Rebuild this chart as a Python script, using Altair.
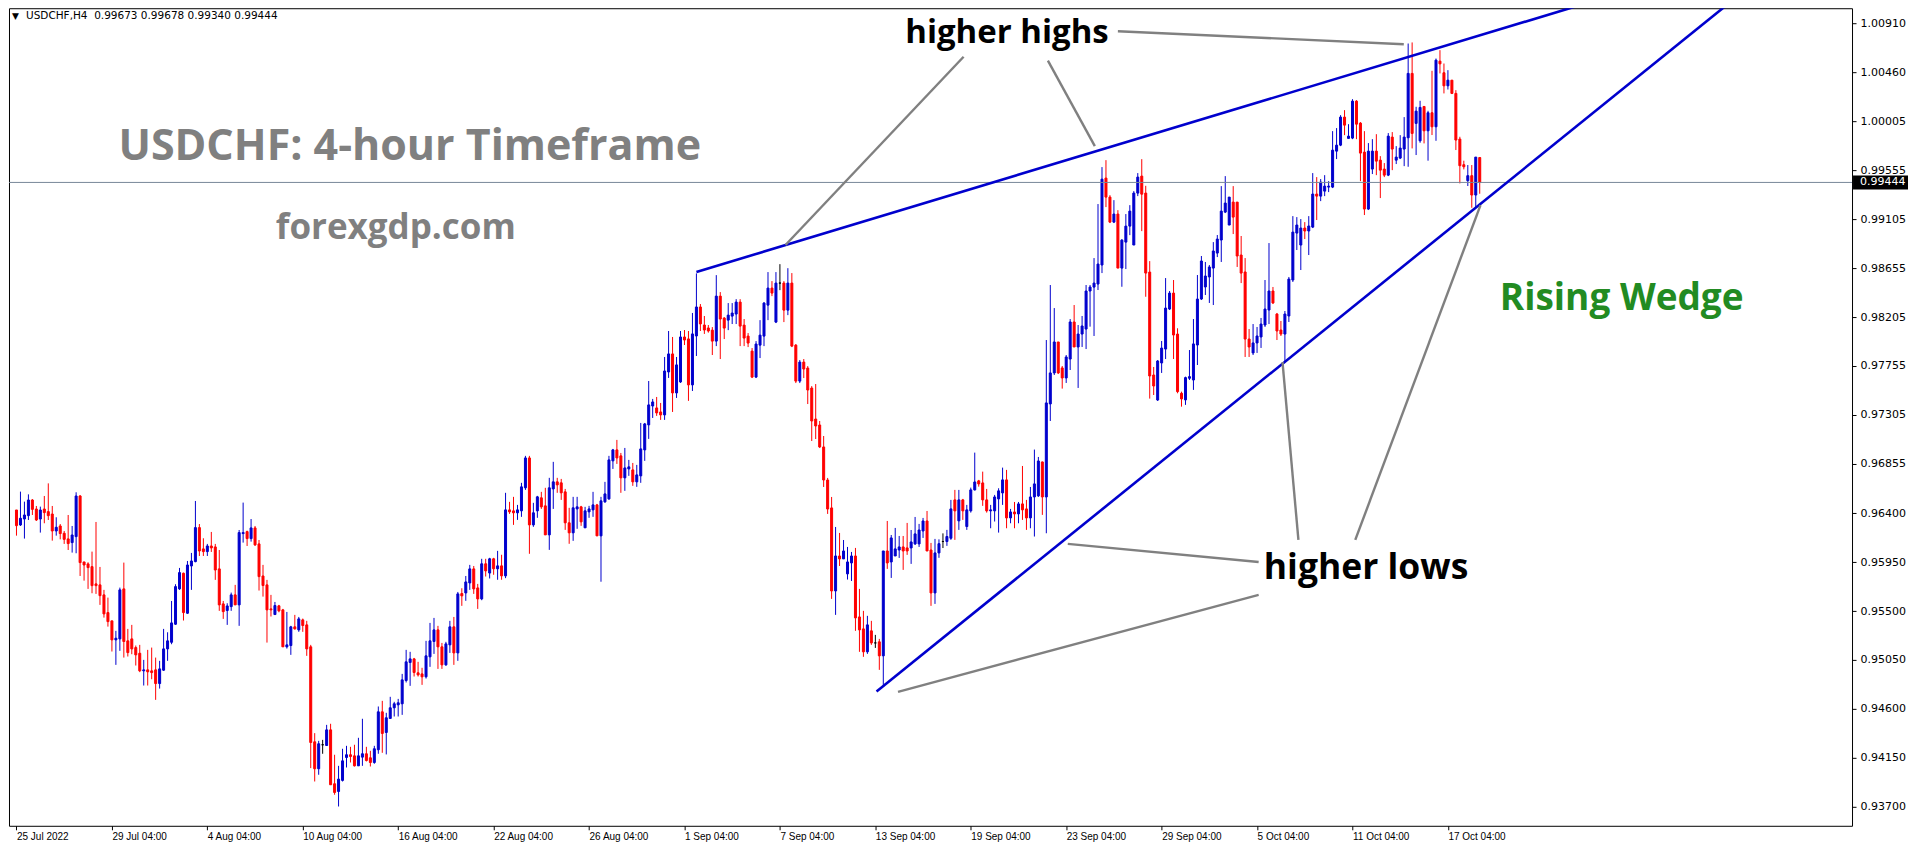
import altair as alt
import pandas as pd

# ---- OHLC values of the 4-hour USDCHF candles, in 1e-5 units (price * 100000) ----
OPEN = [96430,96292,96347,96378,96522,96439,96347,96439,96415,96393,96237,96283,96216,96164,96130,96185,96559,95952,95934,95909,
95750,95741,95649,95486,95410,95235,95244,95704,95226,95244,95164,95112,94950,94959,94950,94959,94833,94956,95152,95213,
95379,95704,95848,95480,95915,95955,96268,96072,96047,96099,96090,95888,95566,95505,95541,95649,95557,96213,96231,96167,
96265,96118,95823,95741,95520,95468,95548,95511,95171,95183,95355,95327,95419,95373,95171,94297,94049,94270,94263,94407,
93911,93840,93942,94153,94178,94168,94076,94156,94187,94150,94107,94224,94573,94383,94512,94610,94637,94647,94861,95027,
95060,94932,94922,94895,95079,95220,95327,95171,95005,95189,95355,95115,95661,95667,95759,95888,95713,95612,95935,95850,
95981,95889,95916,95824,96431,96422,96404,96422,96634,96909,96293,96422,96542,96468,96201,96624,96689,96680,96597,96312,
96220,96440,96459,96266,96413,96431,96477,96192,96505,96532,96882,96983,96928,96726,96808,96799,96689,96744,96983,97213,
97387,97369,97332,97305,97700,97866,97507,97608,98022,98004,97581,98031,98298,98132,98105,98085,97984,98398,98196,98177,
98214,98233,98343,98131,98030,97892,97653,97947,98030,98315,98472,98159,98518,98518,98269,98518,97947,97616,97791,97736,
97552,97267,97212,97010,96706,96449,95685,96007,95980,95842,95943,96007,95446,95336,95125,95318,95207,95217,95088,96053,
95952,96007,96062,96090,96081,96081,96118,96118,96237,96329,96062,95667,96035,96140,96140,96170,96523,96330,96523,96278,
96422,96615,96698,96679,96523,96422,96422,96532,96587,96707,96357,96412,96394,96486,96440,96357,96550,96560,96872,96550,
97406,97691,97976,97737,97645,97819,98160,97930,98049,98095,98445,98481,98509,98684,99484,99309,99079,99153,98656,98895,
99042,98868,99346,99502,99346,98619,97672,97442,97783,97911,98279,98426,98049,97504,97443,97642,97626,97948,98371,98482,
98574,98656,98794,98914,99171,99052,99263,99263,98776,98620,98003,97875,97967,98022,98132,98270,98445,98233,98086,98049,
98215,98546,98978,98868,99024,98997,99033,99337,99318,99364,99401,99401,99732,99787,100045,99849,99852,100192,99990,99723,
99199,99567,99732,99649,99567,99511,99861,99649,99668,99751,99855,100447,99987,99827,100143,99919,100085,99956,100560,100453,
100333,100385,100263,99843,99607,99460,99506,99328,99673]

HIGH = [96430,96599,96507,96574,96531,96467,96461,96559,96675,96467,96363,96301,96237,96384,96283,96593,96568,95952,95949,96047,
96320,95906,95695,95624,95410,95318,95716,95946,95336,95373,95183,95189,95051,95143,95164,95072,95042,95336,95305,95593,
95747,95897,95854,95961,96035,96513,96301,96170,96118,96228,96118,96062,95593,95572,95670,95741,96246,96498,96240,96347,
96283,96154,95925,95787,95649,95584,95557,95520,95492,95364,95465,95446,95431,95410,95189,94377,94306,94315,94453,94463,
94178,94076,94233,94260,94251,94270,94334,94509,94251,94214,94260,94622,94674,94564,94711,94665,94692,94922,95143,95125,
95069,95033,94978,95226,95391,95437,95364,95207,95217,95410,95446,95676,95710,95823,95925,95915,95750,95981,95981,95990,
95990,96054,96018,96588,96505,96551,96477,96680,96928,96928,96496,96560,96597,96634,96726,96873,96726,96716,96624,96450,
96551,96551,96468,96459,96468,96597,96486,96551,96689,96928,96992,97075,96955,97001,96891,96863,96845,97231,97231,97617,
97452,97470,97415,97838,98077,98022,97838,98077,98086,98077,98243,98607,98325,98215,98132,98113,98591,98435,98205,98334,
98334,98370,98370,98187,98058,97920,97984,98177,98343,98619,98536,98619,98692,98536,98655,98610,97957,97810,97819,97754,
97570,97589,97249,97111,96725,96550,96274,96219,96154,96090,96044,96081,95704,95502,95456,95410,95281,95244,96053,96329,
96200,96265,96191,96191,96311,96246,96366,96302,96357,96421,96127,96164,96160,96215,96247,96523,96615,96615,96532,96477,
96636,96958,96707,96783,96624,96477,96569,96630,96820,96799,96440,96504,96504,96835,96523,96642,96986,96918,96875,97994,
98500,98288,97976,97755,97856,98187,98316,98132,98215,98500,98500,98748,99245,99585,99649,99327,99281,99189,98923,99153,
99235,99364,99530,99658,99413,98720,97746,97810,97985,98564,98445,98546,98102,97519,97657,97902,98187,98592,98767,98712,
98684,98895,98960,99410,99502,99309,99410,99263,98951,98748,98095,98141,98114,98197,98546,98886,98482,98243,98169,98261,
98574,99134,99125,99107,99079,99134,99530,99493,99475,99511,99456,99916,99944,100063,100109,99980,100210,100201,99999,99916,
99806,99842,99888,99686,99622,99898,99907,99778,99879,100045,100722,100732,100140,100195,100143,100103,100471,100584,100661,100538,
100477,100385,100293,99864,99644,99604,99604,99677,99678]

LOW = [96194,96283,96167,96338,96384,96329,96222,96308,96338,96148,96194,96160,96118,96062,96038,96032,95823,95780,95704,95664,
95658,95557,95440,95357,95128,95005,95134,95072,95082,95103,94999,94938,94815,94815,94873,94683,94787,94950,95042,95195,
95373,95695,95413,95474,95695,95949,96007,96007,96007,96044,95787,95502,95428,95373,95502,95557,95364,96130,96099,96139,
96099,95689,95633,95210,95450,95468,95489,95171,95155,95097,95330,95309,95309,95088,94055,93932,93994,94187,94263,93902,
93810,93702,93932,94061,94107,94070,94076,94076,94116,94070,94095,94187,94196,94181,94512,94530,94530,94545,94843,94812,
94898,94898,94821,94879,94987,95106,94968,94968,94996,95115,95005,95042,95548,95594,95695,95658,95520,95600,95818,95800,
95834,95788,95788,95803,96394,96293,96339,96367,96615,96027,96275,96358,96440,96201,96063,96440,96588,96523,96247,96119,
96146,96257,96284,96266,96358,96367,96192,95770,96496,96523,96808,96854,96588,96606,96744,96652,96643,96680,96882,97084,
97277,97296,97259,97259,97645,97332,97461,97599,97948,97434,97525,97847,98077,98050,98062,97856,97938,97819,98003,98085,
98141,98141,97938,97938,97929,97644,97644,97828,97938,98177,98398,98150,98453,98159,98223,97929,97598,97598,97644,97405,
97065,97083,97000,96642,96394,95612,95465,95915,95980,95790,95777,95318,95125,95079,95106,95189,95161,94959,94821,95888,
95805,96007,95989,95879,96017,95934,96108,96090,96173,96053,95548,95566,95990,96080,96100,96155,96155,96247,96339,96247,
96406,96609,96645,96468,96406,96262,96324,96222,96477,96262,96308,96262,96308,96339,96247,96262,96186,96550,96385,96216,
97249,97672,97681,97547,97599,97718,97930,97553,97930,97911,98117,98031,98454,98610,99217,99070,99070,98656,98484,98647,
98959,98868,99318,98996,98392,97455,97488,97433,97691,97819,98270,97819,97504,97381,97397,97626,97535,97764,98362,98408,
98335,98316,98757,98712,99162,99052,98969,98666,98518,97838,97838,97856,97875,97921,98114,98141,98325,97994,98031,97801,
98160,98528,98822,98638,98923,98776,99024,99098,99272,99318,99355,99392,99659,99778,99879,99849,99842,99842,99456,99144,
99190,99521,99511,99300,99493,99502,99557,99613,99659,99594,99588,99757,99696,99809,99803,99644,99880,99827,100447,100263,
100299,100257,99742,99435,99564,99411,99211,99211,99340]

CLOSE = [96286,96354,96384,96522,96436,96338,96430,96406,96378,96237,96271,96213,96160,96121,96200,96559,95946,95924,95900,95734,
95734,95642,95474,95403,95235,95250,95695,95220,95118,95152,95097,94950,94959,94941,94934,94833,94968,95152,95226,95391,
95725,95854,95486,95924,95961,96268,96053,96047,96099,96081,95878,95557,95495,95547,95649,95557,96222,96222,96167,96265,
96109,95817,95735,95511,95511,95551,95502,95171,95189,95355,95336,95428,95367,95152,94291,94049,94279,94270,94407,93902,
93831,93954,94122,94178,94162,94076,94168,94187,94125,94107,94233,94573,94374,94518,94610,94647,94656,94867,95033,95060,
94935,94913,94895,95088,95226,95327,95171,95005,95198,95355,95115,95658,95640,95768,95888,95704,95612,95935,95870,95981,
95889,95916,95824,96431,96413,96404,96431,96643,96909,96293,96404,96551,96459,96201,96634,96689,96661,96588,96312,96220,
96450,96459,96321,96422,96440,96477,96192,96514,96578,96891,96983,96909,96726,96817,96827,96689,96753,96992,97222,97397,
97424,97323,97305,97709,97866,97507,97765,98022,97994,97581,98050,98298,98142,98086,98077,97984,98398,98187,98104,98223,
98242,98343,98122,98012,97966,97653,97957,98039,98334,98472,98426,98518,98518,98269,98518,97938,97616,97791,97727,97534,
97249,97203,97010,96706,96439,95685,96007,95980,96053,95952,96007,95437,95327,95125,95373,95207,95207,95088,96053,95943,
96173,96072,96090,96053,96053,96136,96210,96246,96329,96053,95667,96035,96120,96140,96186,96440,96422,96523,96422,96431,
96615,96688,96670,96523,96422,96431,96550,96606,96707,96357,96412,96394,96486,96431,96357,96550,96670,96881,96550,97415,
97691,97976,97691,97645,97838,98160,97930,98049,98123,98445,98481,98518,98693,99474,99309,99079,99153,98656,98913,99042,
99180,99346,99493,99336,98610,97663,97571,97801,97920,98288,98426,98040,97519,97452,97648,97657,97958,98371,98721,98583,
98666,98813,98923,99180,99254,99309,99125,98767,98610,98003,97930,97967,98031,98141,98279,98445,98335,98077,98049,98233,
98555,98987,99052,99024,98997,99043,99337,99318,99447,99410,99410,99741,99787,100045,99971,99870,100192,99980,99714,99199,
99732,99732,99640,99557,99511,99870,99751,99677,99760,99861,100447,99895,100100,100134,99919,100085,99956,100569,100535,100333,
100385,100263,99834,99598,99588,99506,99328,99677,99444]

# ---- axis values ----
TIME_TICK_BARS = [0, 24, 48, 72, 96, 120, 144, 168, 192, 216, 240, 264, 288, 312, 336, 360]
TIME_TICK_LABELS = ["25 Jul 2022", "29 Jul 04:00", "4 Aug 04:00", "10 Aug 04:00", "16 Aug 04:00",
                    "22 Aug 04:00", "26 Aug 04:00", "1 Sep 04:00", "7 Sep 04:00", "13 Sep 04:00",
                    "19 Sep 04:00", "23 Sep 04:00", "29 Sep 04:00", "5 Oct 04:00", "11 Oct 04:00",
                    "17 Oct 04:00"]
PRICE_TICKS = [1.00910, 1.00460, 1.00005, 0.99555, 0.99105, 0.98655, 0.98205, 0.97755, 0.97305,
               0.96855, 0.96400, 0.95950, 0.95500, 0.95050, 0.94600, 0.94150, 0.93700]
SYMBOL = "USDCHF,H4"
LAST_BAR = [0.99673, 0.99678, 0.99340, 0.99444]   # O H L C of the last candle
BID = 0.99444

# ---- wedge trend lines: (bar, price) endpoints ----
WEDGE_BAR1 = [171.0, 216.3]
WEDGE_P1 = [0.98620, 0.94760]
WEDGE_BAR2 = [398.0, 432.0]
WEDGE_P2 = [1.01128, 1.01132]

# ---- grey annotation connectors: (bar, price) endpoints ----
CONN_BAR1 = [238.2, 259.4, 277.0, 322.4, 336.7, 312.4, 312.4]
CONN_P1 = [1.00600, 1.00565, 1.00835, 0.96155, 0.96155, 0.95952, 0.95649]
CONN_BAR2 = [193.4, 271.2, 348.9, 318.4, 368.2, 264.4, 221.7]
CONN_P2 = [0.98868, 0.99778, 1.00716, 0.97791, 0.99235, 0.96118, 0.94757]

# ---- annotation texts anchored at (bar, price) ----
NOTE_TEXT = ["USDCHF: 4-hour Timeframe", "forexgdp.com", "higher highs", "higher lows", "Rising Wedge"]
NOTE_BAR = [98.9, 95.4, 249.1, 339.4, 403.7]
NOTE_PRICE = [0.99769, 0.99024, 1.00817, 0.95897, 0.98375]
NOTE_COLOR = ["#808080", "#808080", "#000000", "#000000", "#228b22"]
NOTE_SIZE = [43, 35, 33, 35.5, 37]

W, H = 1844, 818
XDOM = [-0.625, W / 4 - 0.625]
YDOM = [0.935244, 1.010469]

n = len(CLOSE)
df = pd.DataFrame({
    "bar": list(range(n)),
    "open": [v / 1e5 for v in OPEN],
    "high": [v / 1e5 for v in HIGH],
    "low": [v / 1e5 for v in LOW],
    "close": [v / 1e5 for v in CLOSE],
})
df["dir"] = ["up" if c > o else ("down" if c < o else "flat") for o, c in zip(OPEN, CLOSE)]

cscale = alt.Scale(domain=["up", "down", "flat"], range=["#0000cd", "#ff0000", "#000000"])

label_list = ",".join("'" + s + "'" for s in TIME_TICK_LABELS)
xaxis = alt.Axis(values=TIME_TICK_BARS, labelExpr="[" + label_list + "][round(datum.value/24)]",
                 title=None, grid=False, domain=False, tickSize=4, tickColor="black",
                 labelAlign="left", labelPadding=2, labelFont="Liberation Sans", labelFontSize=10,
                 labelColor="black", labelOverlap=False, labelFlush=False, labelBound=False)
yaxis = alt.Axis(values=PRICE_TICKS, format=".5f", orient="right", title=None, grid=False,
                 domain=False, tickSize=4, tickColor="black", labelAlign="left", labelBaseline="middle",
                 labelPadding=4, labelFont="DejaVu Sans", labelFontSize=11, labelColor="black",
                 labelOverlap=False, labelFlush=False, labelBound=False)


def X(f):
    return alt.X(f"{f}:Q", scale=alt.Scale(domain=XDOM, nice=False, zero=False), axis=xaxis)


def Y(f):
    return alt.Y(f"{f}:Q", scale=alt.Scale(domain=YDOM, nice=False, zero=False), axis=yaxis)


base = alt.Chart(df)
wicks = base.mark_rule(strokeWidth=1).encode(
    x=X("bar"), y=Y("low"), y2="high",
    color=alt.Color("dir:N", scale=cscale, legend=None))
bodies = base.mark_bar(size=2, strokeWidth=1).encode(
    x=X("bar"), y=Y("open"), y2="close",
    color=alt.Color("dir:N", scale=cscale, legend=None),
    stroke=alt.Stroke("dir:N", scale=cscale, legend=None))

bid_df = pd.DataFrame({"p": [BID], "t": [f"{BID:.5f}"]})
bid_line = alt.Chart(bid_df).mark_rule(color="#778899", strokeWidth=1).encode(
    y=Y("p"), x=alt.value(0), x2=alt.value(W))
bid_box = alt.Chart(bid_df).mark_rect(color="black", yOffset=-7, y2Offset=7).encode(
    y=Y("p"), y2="p", x=alt.value(W + 1), x2=alt.value(W + 56))
bid_txt = alt.Chart(bid_df).mark_text(color="white", font="DejaVu Sans", fontSize=11,
                                      align="left", baseline="middle").encode(
    y=Y("p"), x=alt.value(W + 8), text="t:N")

wedge_df = pd.DataFrame({"b1": WEDGE_BAR1, "p1": WEDGE_P1, "b2": WEDGE_BAR2, "p2": WEDGE_P2})
wedge = alt.Chart(wedge_df).mark_rule(color="#0000cd", strokeWidth=2.6, clip=True).encode(
    x=X("b1"), y=Y("p1"), x2="b2", y2="p2")

conn_df = pd.DataFrame({"b1": CONN_BAR1, "p1": CONN_P1, "b2": CONN_BAR2, "p2": CONN_P2})
conn = alt.Chart(conn_df).mark_rule(color="#808080", strokeWidth=2.4).encode(
    x=X("b1"), y=Y("p1"), x2="b2", y2="p2")

note_layers = []
for t, b, p, c, s in zip(NOTE_TEXT, NOTE_BAR, NOTE_PRICE, NOTE_COLOR, NOTE_SIZE):
    ndf = pd.DataFrame({"b": [b], "p": [p], "t": [t]})
    note_layers.append(alt.Chart(ndf).mark_text(font="Open Sans", fontWeight="bold", fontSize=s,
                                                color=c, align="center", baseline="middle").encode(
        x=X("b"), y=Y("p"), text="t:N"))

hdr_df = pd.DataFrame({"t": [SYMBOL + "\u00a0\u00a0" + " ".join(f"{v:.5f}" for v in LAST_BAR)], "tri": ["\u25bc"]})
hdr_tri = alt.Chart(hdr_df).mark_text(font="DejaVu Sans", fontSize=9, color="black", align="left",
                                      baseline="middle").encode(
    x=alt.value(3), y=alt.value(8), text="tri:N")
hdr_txt = alt.Chart(hdr_df).mark_text(font="DejaVu Sans", fontSize=10.5, color="black", align="left",
                                      baseline="middle").encode(
    x=alt.value(17), y=alt.value(8), text="t:N")

chart = alt.layer(wicks, bodies, bid_line, wedge, conn, *note_layers, bid_box, bid_txt,
                  hdr_tri, hdr_txt).properties(
    width=W, height=H, padding=0, background="white"
).configure_view(stroke="black", strokeWidth=1)

chart.save("out.html", embed_options={"renderer": "svg", "actions": False})
